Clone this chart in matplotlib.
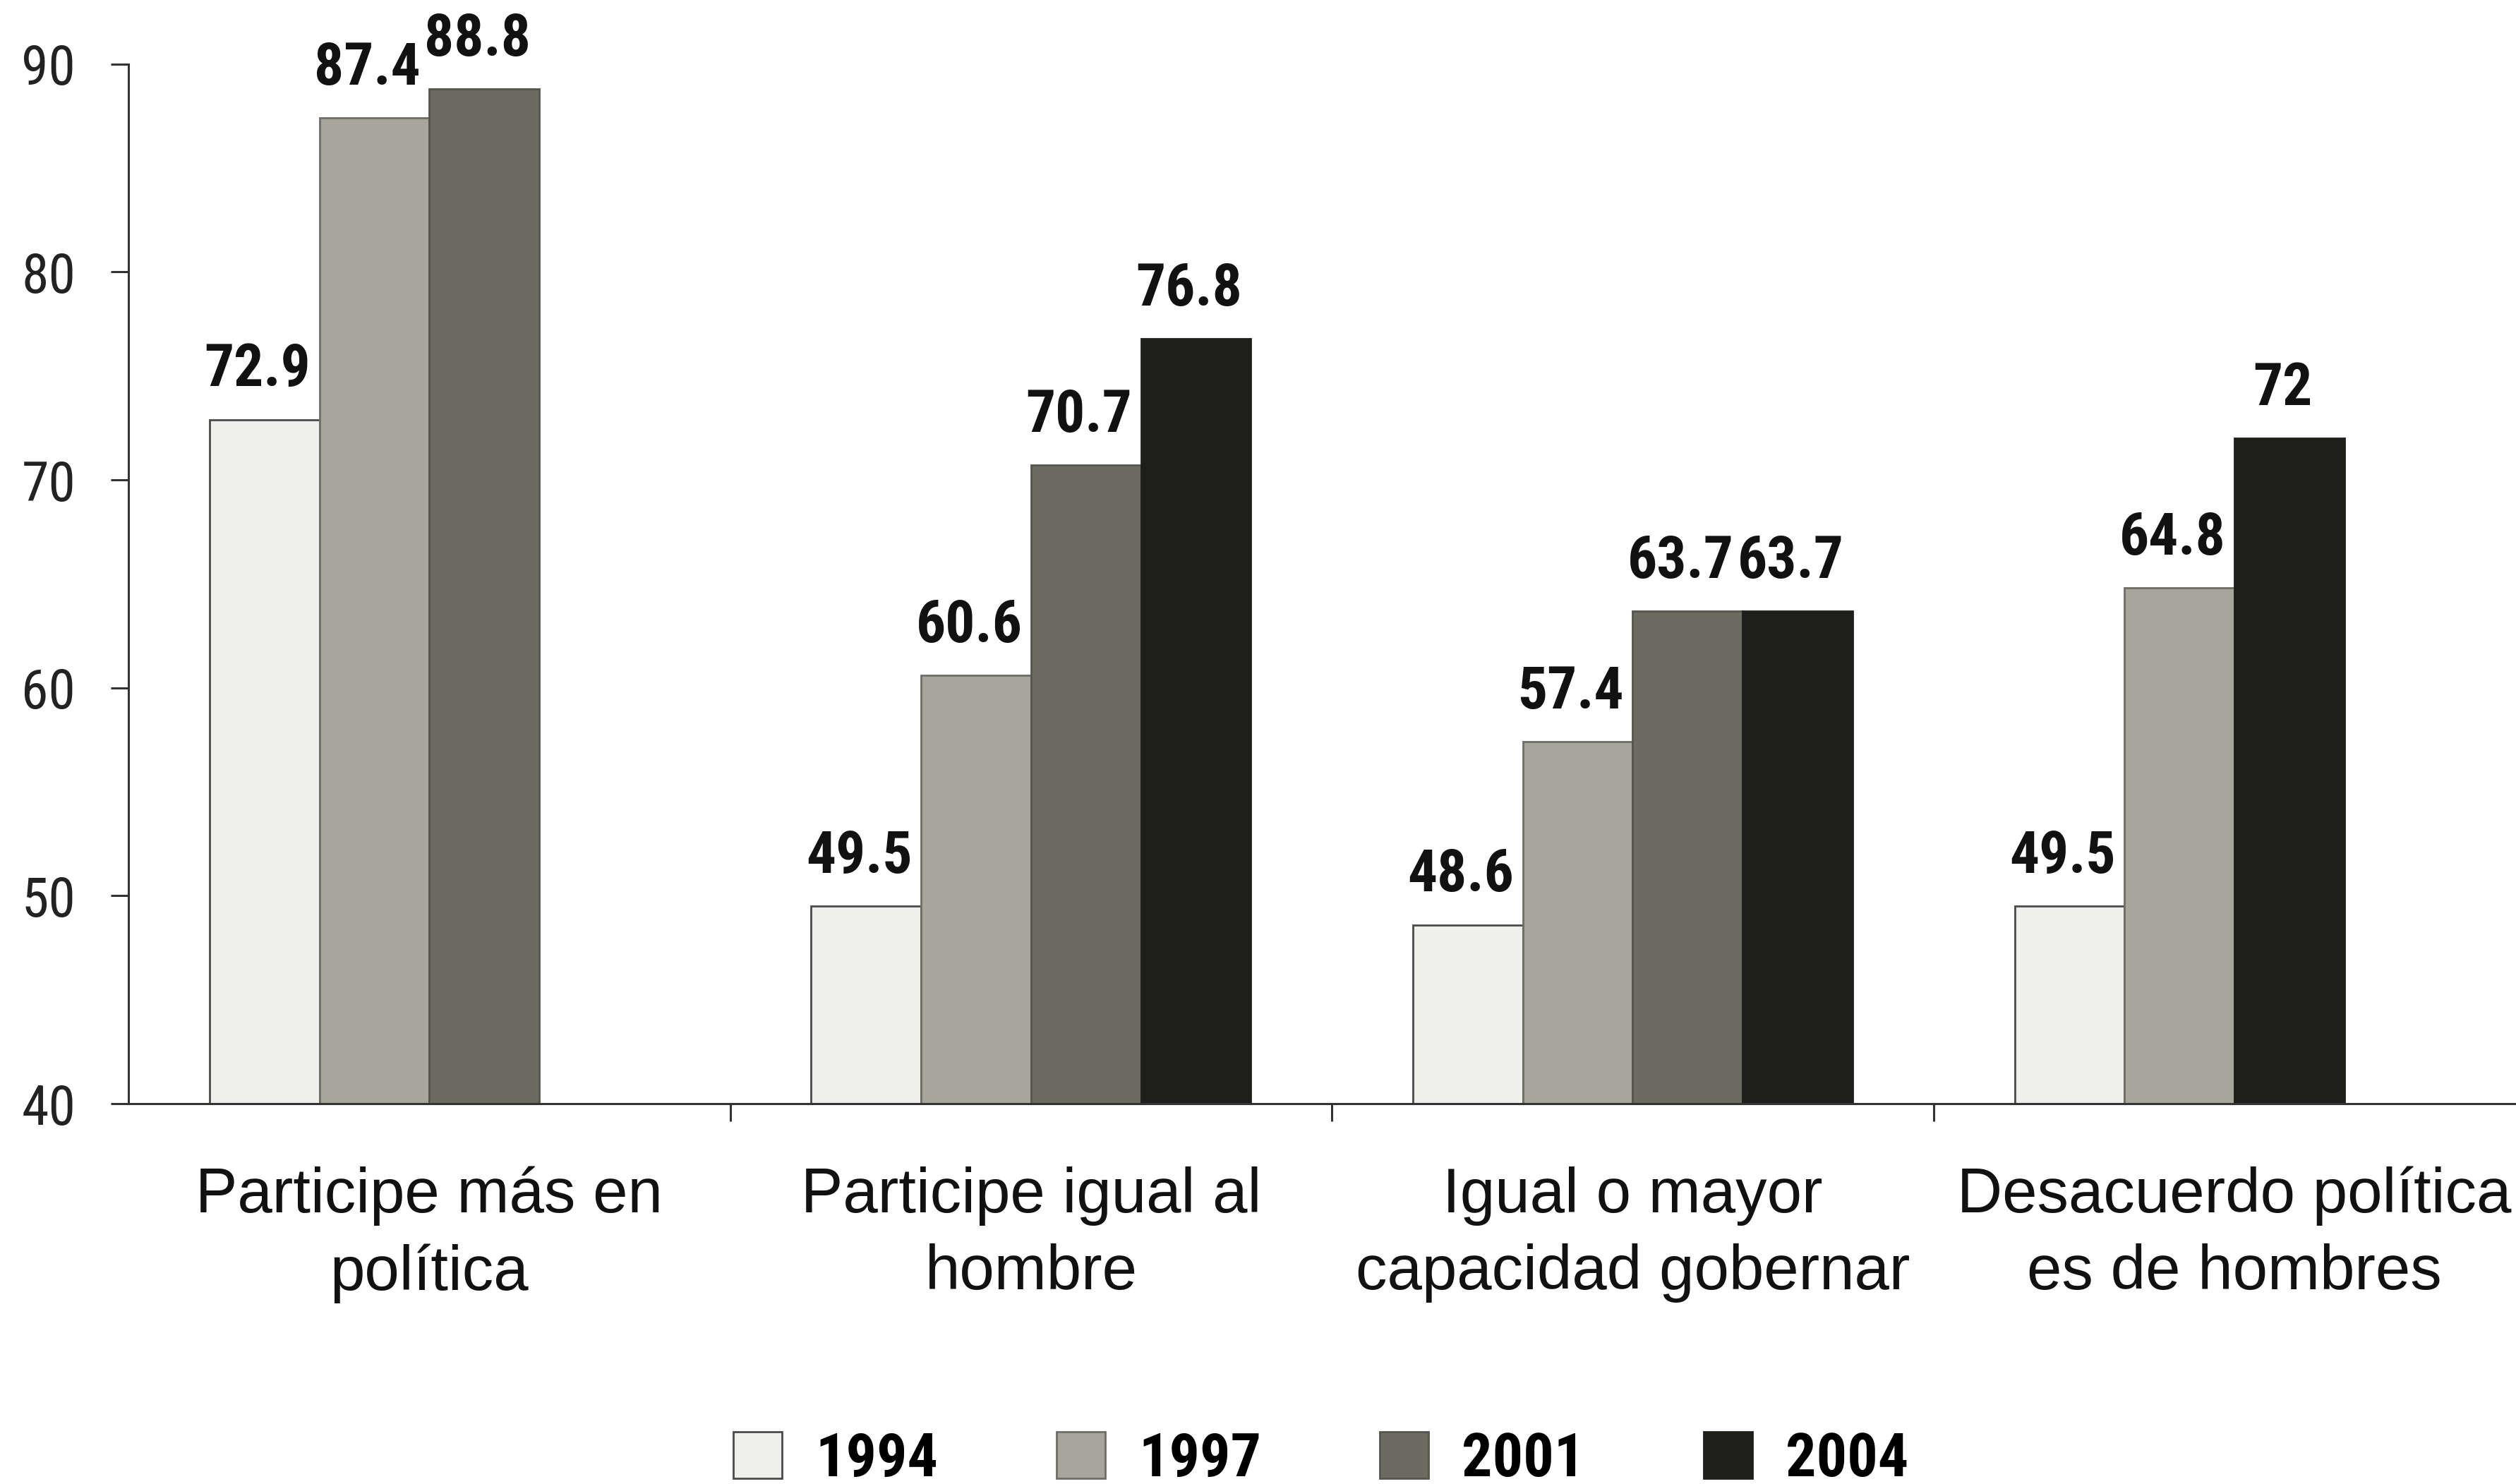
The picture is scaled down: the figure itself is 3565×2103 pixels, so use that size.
import numpy as np
import matplotlib
matplotlib.use("Agg")
import matplotlib.pyplot as plt


# Datos
categories = ["Participe más en\npolítica", "Participe igual al\nhombre",
              "Igual o mayor\ncapacidad gobernar", "Desacuerdo política\nes de hombres"]
years = ["1994", "1997", "2001", "2004"]
v1994 = [72.9, 49.5, 48.6, 49.5]
v1997 = [87.4, 60.6, 57.4, 64.8]
v2001 = [88.8, 70.7, 63.7, np.nan]
v2004 = [np.nan, 76.8, 63.7, 72]
value_labels = [["72.9", "49.5", "48.6", "49.5"],
                ["87.4", "60.6", "57.4", "64.8"],
                ["88.8", "70.7", "63.7", ""],
                ["", "76.8", "63.7", "72"]]

series = [v1994, v1997, v2001, v2004]
colors = ["#efefec", "#a6a69a", "#6b6b60", "#1e1e1a"]
edges = ["#4a4a4a", "#6e6e66", "#55554d", "#1e1e1a"]

narrow = ["Roboto Condensed", "Liberation Sans", "DejaVu Sans"]
regular = ["Liberation Sans", "DejaVu Sans"]

fig = plt.figure(figsize=(35.65, 21.03), dpi=100)
ax = fig.add_axes([0.0511, 0.2563, 0.9489, 0.7005])

w = 0.1827
ngroups = len(categories)

# ================= BARRAS =================
handles = []
for s, vals in enumerate(series):
    xs, ys, labs = [], [], []
    for g in range(ngroups):
        if np.isnan(vals[g]):
            continue
        # las barras faltantes no dejan hueco
        slot = sum(1 for p in range(s) if not np.isnan(series[p][g]))
        xs.append(g + (slot - 1.5) * w)
        ys.append(vals[g])
        labs.append(value_labels[s][g])
    bars = ax.bar(xs, np.array(ys) - 40, w, bottom=40, color=colors[s],
                  edgecolor=edges[s], linewidth=2, label=years[s], zorder=2)
    handles.append(bars)
    for x, y, t in zip(xs, ys, labs):
        ax.annotate(t, (x, y), xytext=(-7, 34), textcoords="offset points",
                    ha="center", va="baseline", fontsize=60, fontweight="bold",
                    family=narrow, color="#111111")

# ================= EJES =================
ax.set_xlim(-0.5, 3.468)
ax.set_ylim(40, 90)
ax.spines["top"].set_visible(False)
ax.spines["right"].set_visible(False)
for sp in ["left", "bottom"]:
    ax.spines[sp].set_linewidth(2.2)
    ax.spines[sp].set_color("#333333")

ax.set_yticks([40, 50, 60, 70, 80, 90])
ax.tick_params(axis="y", length=18, width=2.2, color="#333333", pad=36,
               labelsize=56, labelcolor="#222222")
for lab in ax.get_yticklabels():
    lab.set_family(narrow)

ax.set_xticks([0.5, 1.5, 2.5])
ax.set_xticklabels([])
ax.tick_params(axis="x", which="major", length=18, width=2.2, color="#333333")
ax.set_xticks(range(ngroups), categories, minor=True)
ax.tick_params(axis="x", which="minor", length=0, pad=64, labelsize=64,
               labelcolor="#111111")
for lab in ax.get_xticklabels(minor=True):
    lab.set_family(regular)
    lab.set_linespacing(1.38)

# ================= LEYENDA =================
leg = fig.legend(handles=handles, labels=years, loc="center", ncol=4,
                 bbox_to_anchor=(0.525, 0.0166), frameon=False,
                 prop={"family": narrow, "weight": "bold", "size": 62},
                 handlelength=0.8, handleheight=0.8, handletextpad=0.55,
                 columnspacing=1.95, borderaxespad=0)

fig.savefig("out.png", dpi=100)
